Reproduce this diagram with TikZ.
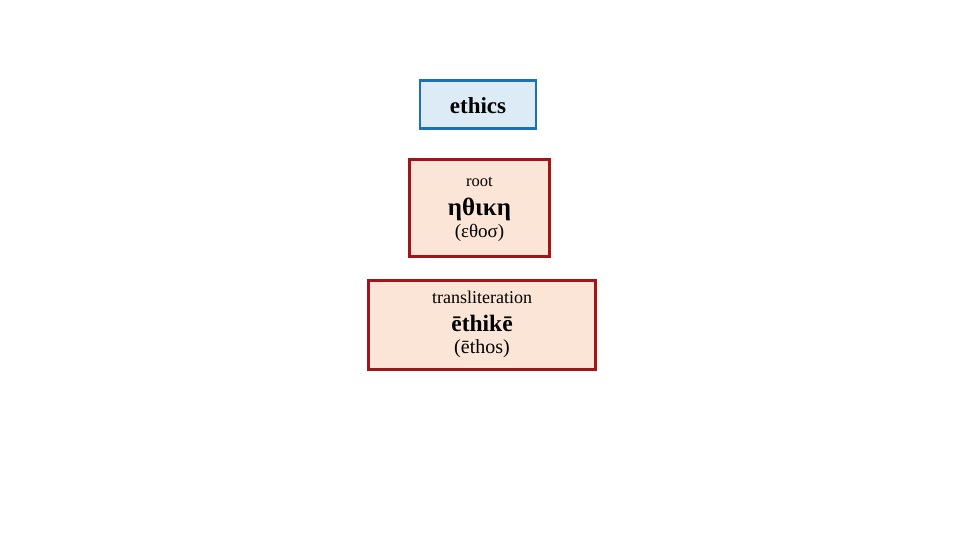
\documentclass[tikz,border=0pt]{standalone}
\usepackage{fontspec}
\setmainfont{Liberation Serif}
\definecolor{termblue}{HTML}{1A72B4}
\definecolor{termfill}{HTML}{DDEBF7}
\definecolor{rootred}{HTML}{A0141A}
\definecolor{rootfill}{HTML}{FBE5D6}
\tikzset{
  termbox/.style={draw=termblue, fill=termfill, line width=2.6pt, inner sep=0pt},
  rootbox/.style={draw=rootred, fill=rootfill, line width=2.6pt, inner sep=0pt},
}
\begin{document}
\begin{tikzpicture}[x=1pt, y=-1pt]
  \useasboundingbox (0, 0) rectangle (960, 540);

  \node[termbox, minimum width=116pt, minimum height=48pt] (ethics) at (478, 104.5) {};
  \node[rootbox, minimum width=140pt, minimum height=97pt] (root) at (479.5, 208) {};
  \node[rootbox, minimum width=227pt, minimum height=89pt] (translit) at (482, 325) {};

  \node (word) at (478, 106) {\fontsize{23}{26}\selectfont\bfseries ethics};

  \node (rootlabel) at (479.5, 182) {\fontsize{16.5}{18}\selectfont root};
  \node (greek) at (479.5, 209) {\fontsize{25}{28}\selectfont\bfseries ηθικη};
  \node (greekroot) at (479.5, 233) {\fontsize{19}{22}\selectfont (εθοσ)};

  \node (translabel) at (482, 297) {\fontsize{18}{20}\selectfont transliteration};
  \node (latin) at (482, 323) {\fontsize{23.5}{26}\selectfont\bfseries ēthikē};
  \node (latinroot) at (482, 349) {\fontsize{20}{22}\selectfont (ēthos)};
\end{tikzpicture}
\end{document}
